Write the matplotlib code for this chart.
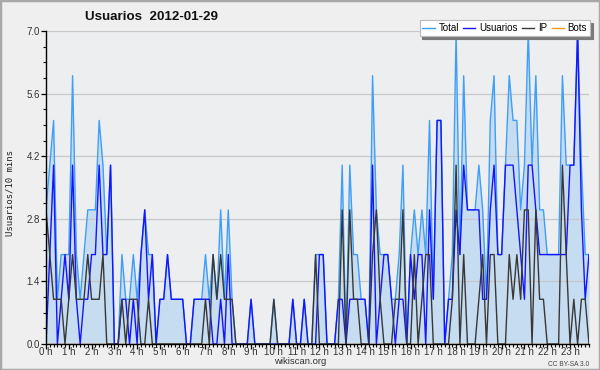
import numpy as np
import matplotlib
matplotlib.use("Agg")
from matplotlib import pyplot as plt
from matplotlib.lines import Line2D
from matplotlib.patches import Rectangle
from matplotlib.ticker import FixedLocator, MultipleLocator

# 10-minute buckets over one day (144 points)
total = [3, 4, 5, 1, 2, 2, 2, 6, 2, 1, 2, 3,
         3, 3, 5, 4, 2, 4, 0, 0, 2, 1, 1, 2,
         1, 2, 3, 2, 2, 0, 1, 1, 2, 1, 1, 1,
         1, 0, 0, 1, 1, 1, 2, 1, 2, 1, 3, 1,
         3, 1, 0, 0, 0, 0, 1, 0, 0, 0, 0, 0,
         1, 0, 0, 0, 0, 1, 0, 0, 1, 0, 0, 2,
         2, 2, 0, 0, 0, 1, 4, 0, 4, 2, 2, 1,
         1, 0, 6, 3, 2, 2, 2, 1, 1, 2, 4, 0,
         2, 3, 2, 3, 2, 5, 1, 5, 5, 0, 1, 2,
         7, 2, 6, 3, 3, 3, 4, 3, 1, 5, 6, 2,
         2, 4, 6, 5, 5, 3, 4, 7, 4, 6, 3, 3,
         2, 2, 2, 2, 6, 4, 4, 4, 7, 4, 2, 2]
usuarios = [0, 2, 4, 0, 1, 2, 1, 4, 1, 0, 1, 1,
            2, 2, 4, 2, 2, 4, 0, 0, 1, 1, 0, 1,
            0, 2, 3, 1, 2, 0, 1, 1, 2, 1, 1, 1,
            1, 0, 0, 1, 1, 1, 1, 1, 0, 0, 1, 0,
            2, 0, 0, 0, 0, 0, 1, 0, 0, 0, 0, 0,
            0, 0, 0, 0, 0, 1, 0, 0, 1, 0, 0, 0,
            2, 2, 0, 0, 0, 1, 1, 0, 1, 1, 1, 1,
            1, 0, 4, 0, 1, 2, 2, 1, 0, 1, 1, 0,
            2, 1, 2, 2, 0, 3, 1, 5, 5, 0, 1, 1,
            3, 2, 4, 3, 3, 3, 3, 1, 1, 3, 4, 2,
            2, 4, 4, 4, 3, 2, 1, 4, 4, 3, 2, 2,
            2, 2, 2, 2, 2, 2, 4, 4, 7, 3, 1, 2]
ip = [3, 2, 1, 1, 1, 0, 1, 2, 1, 1, 1, 2,
      1, 1, 1, 2, 0, 0, 0, 0, 1, 0, 1, 1,
      1, 0, 0, 1, 0, 0, 0, 0, 0, 0, 0, 0,
      0, 0, 0, 0, 0, 0, 1, 0, 2, 1, 2, 1,
      1, 1, 0, 0, 0, 0, 0, 0, 0, 0, 0, 0,
      1, 0, 0, 0, 0, 0, 0, 0, 0, 0, 0, 2,
      0, 0, 0, 0, 0, 0, 3, 0, 3, 1, 1, 0,
      0, 0, 2, 3, 1, 0, 0, 0, 1, 1, 3, 0,
      0, 2, 0, 1, 2, 2, 0, 0, 0, 0, 0, 1,
      4, 0, 2, 0, 0, 0, 1, 2, 0, 2, 2, 0,
      0, 0, 2, 1, 2, 1, 3, 3, 0, 3, 1, 1,
      0, 0, 0, 0, 4, 2, 0, 1, 0, 1, 1, 0]
bots = [0] * 144

y_ticks = [0.0, 1.4, 2.8, 4.2, 5.6, 7.0]
hour_labels = ["%d h" % h for h in range(24)]
series_names = ["Total", "Usuarios", "IP", "Bots"]
series_colors = ["#3f9ef8", "#1414ff", "#383838", "#ff9a1a"]

plt.rcParams['font.family'] = ['Liberation Sans', 'DejaVu Sans']

fig = plt.figure(figsize=(6, 3.7), dpi=100, facecolor='#efefef')
ax = fig.add_axes([46/600, 1 - 344/370, 543/600, 313/370])
ax.set_facecolor('#edeef0')

x = np.arange(len(total))
ax.fill_between(x, total, color='#c6dcf0', lw=0, zorder=1)
ax.plot(x, bots, color=series_colors[3], lw=1, zorder=2)
ax.plot(x, total, color=series_colors[0], lw=1, zorder=3)
ax.plot(x, usuarios, color=series_colors[1], lw=1, zorder=4)
ax.plot(x, ip, color=series_colors[2], lw=1, zorder=5)

ax.set_xlim(0, len(x) - 1)
ax.set_ylim(0, 7)

# axes, ticks, grid
for s in ['top', 'right']:
    ax.spines[s].set_visible(False)
for s in ['left', 'bottom']:
    ax.spines[s].set_color('black')
    ax.spines[s].set_linewidth(1)
    ax.spines[s].set_zorder(6)

ax.yaxis.set_major_locator(FixedLocator(y_ticks))
ax.set_yticklabels(["%.1f" % v for v in y_ticks])
ax.yaxis.set_minor_locator(MultipleLocator(0.35))
ax.xaxis.set_major_locator(FixedLocator(list(range(0, 144, 6))))
ax.set_xticklabels(hour_labels)
ax.xaxis.set_minor_locator(MultipleLocator(1))
ax.tick_params(which='major', direction='out', length=3.5, width=0.9, colors='black',
               labelsize=7, labelcolor='#333333', pad=0.8)
ax.tick_params(which='minor', direction='out', length=2, width=0.8, colors='black')
ax.tick_params(axis='x', which='major', pad=-1.6)

ax.set_axisbelow('line')
ax.grid(axis='y', which='major', color='#c8c8c8', lw=0.9)

# texts
fig.text(85/600, 1 - 17/370, "Usuarios  2012-01-29", fontsize=9.6, fontweight='bold',
         ha='left', va='center', color='#111111')
fig.text(10/600, 1 - 193/370, "Usuarios/10 mins", rotation=90, fontsize=6.5,
         family='DejaVu Sans Mono', ha='center', va='center', color='#222222')
fig.text(300/600, 1 - 362/370, "wikiscan.org", fontsize=6.8, ha='center', va='center',
         color='#333333')
fig.text(589/600, 1 - 364/370, "CC BY-SA 3.0", fontsize=4.8, ha='right', va='center',
         color='#444444')

# legend
handles = [Line2D([], [], color=c, lw=1) for c in series_colors]
leg = fig.legend(handles, series_names, loc='upper right', bbox_to_anchor=(590/600, 1 - 20/370),
                 ncol=4, fontsize=7, frameon=True, fancybox=False,
                 shadow={'color': '#7a7a7a', 'alpha': 1},
                 handlelength=1.25, handletextpad=0.4, columnspacing=0.45,
                 borderpad=0.3, borderaxespad=0)
leg.get_frame().set_edgecolor('#bbbbbb')
leg.get_frame().set_facecolor('white')
leg.get_frame().set_alpha(1)
leg.get_frame().set_linewidth(0.8)

# outer border
fig.patches.append(Rectangle((0, 0), 1, 1, transform=fig.transFigure, fill=False,
                             edgecolor='#a9a9a9', lw=2.5))

fig.savefig('out.png', dpi=100, facecolor=fig.get_facecolor())
